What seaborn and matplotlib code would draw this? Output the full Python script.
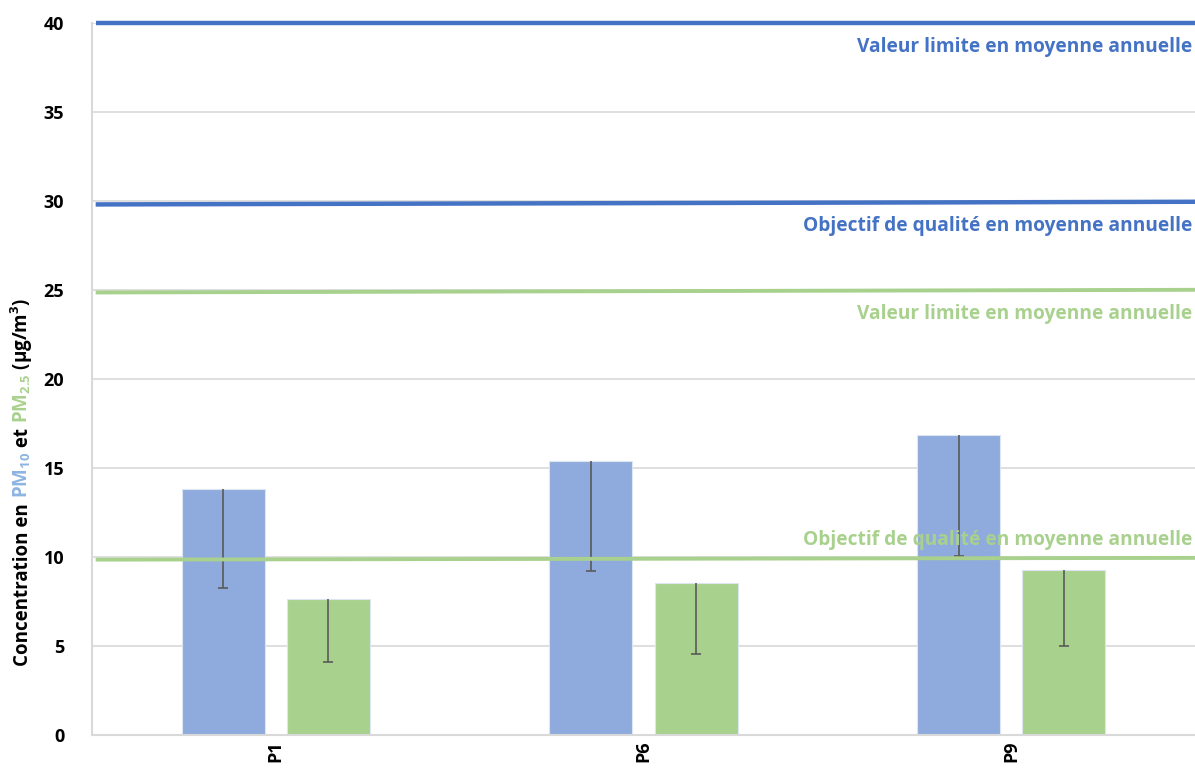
import matplotlib
matplotlib.use("Agg")
import matplotlib.pyplot as plt
import seaborn as sns
import pandas as pd
import numpy as np

# Sites and measured concentrations (µg/m³)
sites = ["P1", "P6", "P9"]
pm10_mean = [13.8, 15.4, 16.85]
pm10_low = [8.25, 9.2, 10.05]
pm25_mean = [7.6, 8.5, 9.25]
pm25_low = [4.1, 4.55, 5.0]

# Regulatory thresholds: (value at left edge, value at right edge, colour key, label, label side)
thresholds = [
    (40.0, 40.0, "pm10", "Valeur limite en moyenne annuelle", "below"),
    (29.8, 29.95, "pm10", "Objectif de qualité en moyenne annuelle", "below"),
    (24.85, 25.0, "pm25", "Valeur limite en moyenne annuelle", "below"),
    (9.83, 9.93, "pm25", "Objectif de qualité en moyenne annuelle", "above"),
]

BAR_PM10 = "#8FAADC"
BAR_PM25 = "#A9D18E"
LINE_PM10 = "#4472C4"
LINE_PM25 = "#A9D18E"
LABEL_PM10 = "#8DB4E2"
FONT = "Open Sans"

sns.set_theme(style="white")
plt.rcParams["font.family"] = [FONT, "DejaVu Sans"]
plt.rcParams["mathtext.default"] = "regular"

df = pd.DataFrame({
    "site": sites * 2,
    "pollutant": ["PM10"] * 3 + ["PM2.5"] * 3,
    "value": pm10_mean + pm25_mean,
    "low": pm10_low + pm25_low,
})

W, H = 1195, 776
fig = plt.figure(figsize=(W / 100, H / 100), dpi=100)
ax = fig.add_axes([92 / W, 1 - 734.5 / H, 1 - 92 / W, (734.5 - 23) / H])

sns.barplot(data=df, x="site", y="value", hue="pollutant",
            palette={"PM10": BAR_PM10, "PM2.5": BAR_PM25}, saturation=1,
            width=0.572, gap=0.21, errorbar=None, legend=False, ax=ax,
            edgecolor="#DCE6F2", linewidth=0.8, zorder=2)

# Downward-only error bars anchored on each drawn bar
for bar, row in zip(list(ax.patches), df.itertuples()):
    xc = bar.get_x() + bar.get_width() / 2
    ax.vlines(xc, row.low, row.value, color="#5A5A5A", linewidth=1.2, zorder=3)
    ax.plot([xc], [row.low], marker="_", markersize=6.5, markeredgewidth=1.2,
            color="#5A5A5A", zorder=3)

ax.set_xlim(-0.5, 2.5)
ax.set_ylim(0, 40)
ax.set_yticks(np.arange(0, 41, 5))
ax.yaxis.grid(True, color="#D9D9D9", linewidth=1.2, zorder=0)
ax.set_axisbelow(True)

for side in ("top", "right"):
    ax.spines[side].set_visible(False)
ax.spines["left"].set_color("#D9D9D9")
ax.spines["left"].set_linewidth(1.5)
ax.spines["bottom"].set_color("#D9D9D9")
ax.spines["bottom"].set_linewidth(1.5)

ax.tick_params(axis="both", length=0, labelsize=13, colors="black")
ax.tick_params(axis="y", pad=20)
ax.tick_params(axis="x", pad=4)
for lab in ax.get_yticklabels():
    lab.set_fontweight("bold")
ax.set_xticks(range(len(sites)))
ax.set_xticklabels(sites, rotation=90, fontweight="bold", fontsize=13)
ax.set_xlabel("")
ax.set_ylabel("")

# Threshold lines with their captions
x_left, x_right = -0.49, 2.5
for y0, y1, key, text, side in thresholds:
    lc = LINE_PM10 if key == "pm10" else LINE_PM25
    lw = 3.2 if key == "pm10" else 2.8
    ax.plot([x_left, x_right], [y0, y1], color=lc, linewidth=lw,
            solid_capstyle="butt", zorder=4, clip_on=False)
    if side == "below":
        ax.annotate(text, xy=(2.493, y1), xytext=(0, -10), textcoords="offset points",
                    ha="right", va="top", color=lc, fontsize=13.8, fontweight="bold",
                    zorder=5)
    else:
        ax.annotate(text, xy=(2.493, y1), xytext=(0, 6), textcoords="offset points",
                    ha="right", va="bottom", color=lc, fontsize=13.8, fontweight="bold",
                    zorder=5)

# Multi-coloured vertical axis title built from consecutive pieces
fig.canvas.draw()
renderer = fig.canvas.get_renderer()
pieces = [
    ("Concentration en ", "black"),
    ("PM$_{10}$", LABEL_PM10),
    (" et ", "black"),
    ("PM$_{2.5}$", BAR_PM25),
    (" (µg/m$^{3}$)", "black"),
]
x_px, y_px = 28, H - 666
for txt, col in pieces:
    t = fig.text(x_px / W, y_px / H, txt, rotation=90, rotation_mode="anchor",
                 ha="left", va="baseline", color=col, fontsize=13.5,
                 fontweight="bold", transform=fig.transFigure)
    bb = t.get_window_extent(renderer)
    y_px += bb.height

fig.savefig("out.png", dpi=100)
